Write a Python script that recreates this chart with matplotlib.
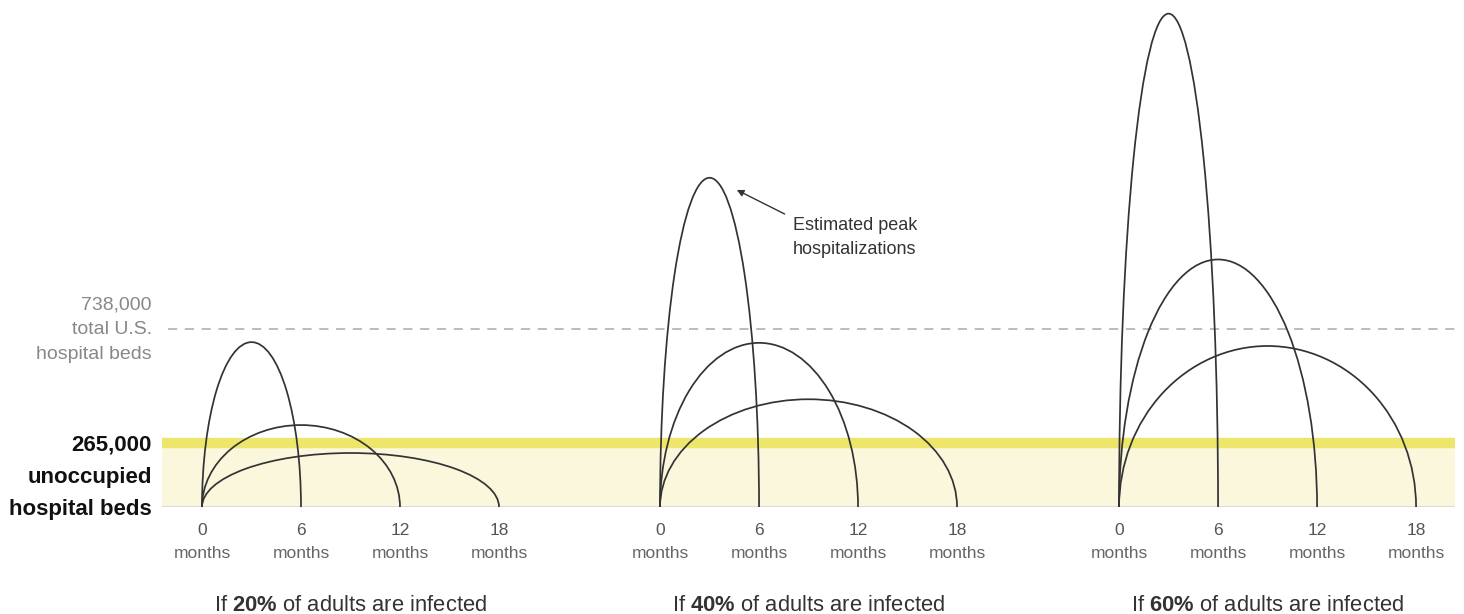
import matplotlib
matplotlib.use('Agg')
import matplotlib.pyplot as plt
import matplotlib.transforms as mtransforms
from matplotlib.patches import Arc

plt.rcParams['font.family'] = ['Liberation Sans', 'DejaVu Sans']
plt.rcParams['mathtext.fontset'] = 'custom'
plt.rcParams['mathtext.rm'] = 'Liberation Sans'
plt.rcParams['mathtext.bf'] = 'Liberation Sans:bold'

# data
infection_rates = ['20%', '40%', '60%']
durations = [6, 12, 18]                       # months the outbreak lasts
peaks_20 = [684000, 340000, 224000]           # peak hospitalizations
peaks_40 = [1366000, 681000, 447000]
peaks_60 = [2047000, 1027000, 668000]
tick_months = [0, 6, 12, 18]
total_beds = 738000
free_beds = 265000

all_peaks = [peaks_20, peaks_40, peaks_60]

# layout (months along x, each panel shifted)
W, H = 1464, 614
px_month = 16.5
x0_px = 202          # pixel of "0 months" in first panel
panel_shift = [0, 27.76, 55.58]
ax_left_px, ax_right_px = 162, 1455
base_px, top_px = 507, 5
per_px = 4149.0

fig = plt.figure(figsize=(W / 100, H / 100), dpi=100)
ax = fig.add_axes([ax_left_px / W, (H - base_px) / H,
                   (ax_right_px - ax_left_px) / W, (base_px - top_px) / H])
ax.set_xlim((ax_left_px - x0_px) / px_month, (ax_right_px - x0_px) / px_month)
ax.set_ylim(0, (base_px - top_px) * per_px)
ax.set_axis_off()

# shaded band of unoccupied beds
ax.axhspan(0, free_beds, color='#faf7dd', lw=0, zorder=0)
ax.axhline(free_beds, color='#eee66a', lw=7.5, zorder=1)
ax.axhline(0, color='#dcdcdc', lw=1.5, zorder=1)
ax.axhline(total_beds, xmin=0.005, color='#aaaaaa', lw=1.1,
           dashes=(6, 5), zorder=1)

# arches
for shift, peaks in zip(panel_shift, all_peaks):
    for dur, pk in zip(durations, peaks):
        arc = Arc((shift + dur / 2, 0), dur, 2 * pk, theta1=0, theta2=180,
                  color='#333333', lw=1.25, zorder=3)
        ax.add_patch(arc)

# month ticks and panel titles
for shift, rate in zip(panel_shift, infection_rates):
    for m in tick_months:
        ax.annotate(str(m), (shift + m, 0), xytext=(0, -17),
                    textcoords='offset points', ha='center', va='center',
                    fontsize=12.5, color='#555555', annotation_clip=False)
        ax.annotate('months', (shift + m, 0), xytext=(0, -33.5),
                    textcoords='offset points', ha='center', va='center',
                    fontsize=12.5, color='#666666', annotation_clip=False)
    ax.annotate('If $\\mathbf{' + rate.replace('%', '\\%') + '}$ of adults are infected',
                (shift + 9, 0), xytext=(0, -71), textcoords='offset points',
                ha='center', va='center', fontsize=15.8, color='#333333',
                annotation_clip=False)

# left labels
lab = mtransforms.blended_transform_factory(fig.transFigure, ax.transData)
lx = 152 / W
for txt, dy in zip(['738,000', 'total U.S.', 'hospital beds'], [17.5, -0.5, -18.5]):
    ax.annotate(txt, (lx, total_beds), xycoords=lab, xytext=(0, dy),
                textcoords='offset points', ha='right', va='center',
                fontsize=14, color='#888888', annotation_clip=False)
for txt, yv in zip(['265,000', 'unoccupied', 'hospital beds'],
                   [free_beds, free_beds / 2, 0]):
    ax.annotate(txt, (lx, yv), xycoords=lab, xytext=(0, -1.5),
                textcoords='offset points', ha='right', va='center',
                fontsize=16, fontweight='bold', color='#111111',
                annotation_clip=False)

# peak note
pk_x = panel_shift[1] + durations[0] / 2
pk_y = peaks_40[0]
ax.annotate('', xy=(pk_x + 1.65, pk_y * 0.963), xytext=(pk_x + 4.55, pk_y * 0.89),
            arrowprops=dict(arrowstyle='-|>', color='#333333', lw=1,
                            mutation_scale=10, shrinkA=0, shrinkB=0))
ax.annotate('Estimated peak\nhospitalizations', (pk_x + 5.05, pk_y * 0.89),
            xytext=(0, -2), textcoords='offset points', ha='left', va='top',
            fontsize=13, color='#333333', linespacing=1.55)

fig.savefig('out.png', dpi=100)
